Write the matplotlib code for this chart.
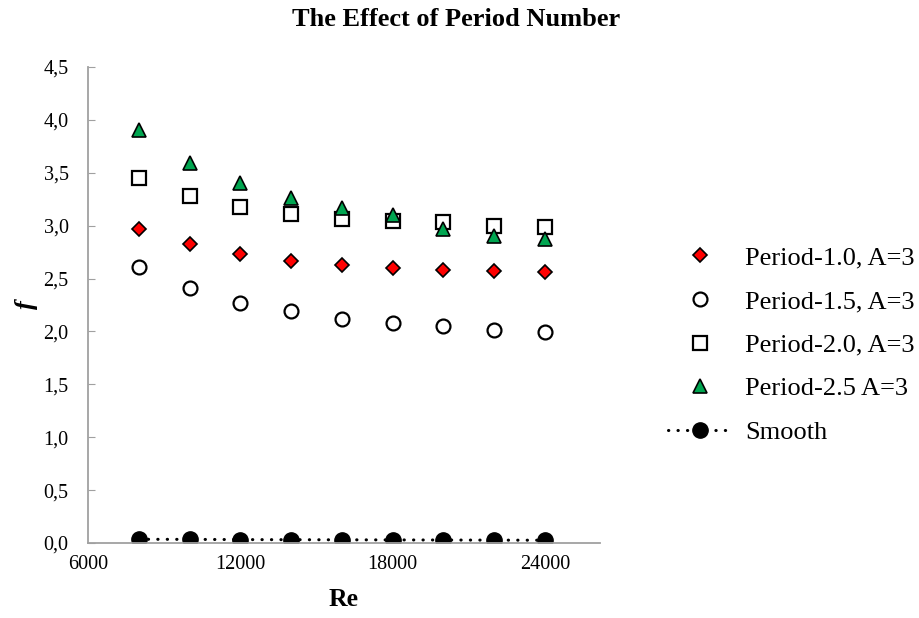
import numpy as np
import matplotlib
matplotlib.use('Agg')
import matplotlib.pyplot as plt
from matplotlib.ticker import FuncFormatter

plt.rcParams['font.family'] = ['Liberation Serif', 'DejaVu Serif']

# Reynolds numbers
re = [8000, 10000, 12000, 14000, 16000, 18000, 20000, 22000, 24000]

# friction factor for each configuration
f_p10 = [2.97, 2.83, 2.73, 2.67, 2.63, 2.60, 2.58, 2.57, 2.56]
f_p15 = [2.61, 2.41, 2.27, 2.19, 2.12, 2.08, 2.05, 2.01, 1.99]
f_p20 = [3.45, 3.28, 3.18, 3.11, 3.06, 3.04, 3.03, 3.00, 2.99]
f_p25 = [3.90, 3.59, 3.40, 3.26, 3.17, 3.10, 2.97, 2.90, 2.87]
f_smooth = [0.035, 0.034, 0.032, 0.031, 0.030, 0.029, 0.028, 0.027, 0.026]

labels = ['Period-1.0, A=3', 'Period-1.5, A=3', 'Period-2.0, A=3',
          'Period-2.5 A=3', 'Smooth']

fig = plt.figure(figsize=(9.2, 6.18), dpi=100)
ax = fig.add_axes([0.0957, 0.1214, 0.5565, 0.7702])

ax.plot(re, f_p10, 'D', ms=6.8, mfc='#ff0000', mec='black', mew=1.2,
        ls='none', label=labels[0])
ax.plot(re, f_p15, 'o', ms=10, mfc='white', mec='black', mew=1.6,
        ls='none', label=labels[1])
ax.plot(re, f_p20, 's', ms=9.5, mfc='white', mec='black', mew=1.6,
        ls='none', label=labels[2])
ax.plot(re, f_p25, '^', ms=10, mfc='#00a550', mec='black', mew=1.2,
        ls='none', label=labels[3])
ax.plot(re, f_smooth, 'o', ms=11, mfc='black', mec='black', color='black',
        ls=(0, (0.1, 3.0)), lw=2.2, dash_capstyle='round', label=labels[4])

ax.set_xlim(6000, 26170)
ax.set_ylim(0, 4.5)
ax.set_xticks([6000, 12000, 18000, 24000])
ax.set_yticks(np.arange(0, 4.51, 0.5))
ax.yaxis.set_major_formatter(FuncFormatter(lambda v, p: f'{v:.1f}'.replace('.', ',')))

for s in ['top', 'right']:
    ax.spines[s].set_visible(False)
for s in ['left', 'bottom']:
    ax.spines[s].set_color('#a0a0a0')
    ax.spines[s].set_linewidth(1.3)
ax.tick_params(axis='y', direction='in', length=5, color='#a0a0a0',
               labelsize=14.5, pad=14)
ax.tick_params(axis='x', length=0, labelsize=14.5, pad=9)

ax.set_xlabel('Re', fontsize=18.5, fontweight='bold', labelpad=10)
ax.set_ylabel('f', fontsize=19, fontweight='bold', fontstyle='italic', labelpad=4)
fig.text(0.496, 0.968, 'The Effect of Period Number', fontsize=19,
         fontweight='bold', ha='center', va='center')

fig.legend(loc='center left', bbox_to_anchor=(0.726, 0.4417), frameon=False,
           fontsize=19, handlelength=2.4, handletextpad=0.53,
           labelspacing=0.76, borderpad=0, borderaxespad=0)

fig.savefig('out.png', dpi=100)
